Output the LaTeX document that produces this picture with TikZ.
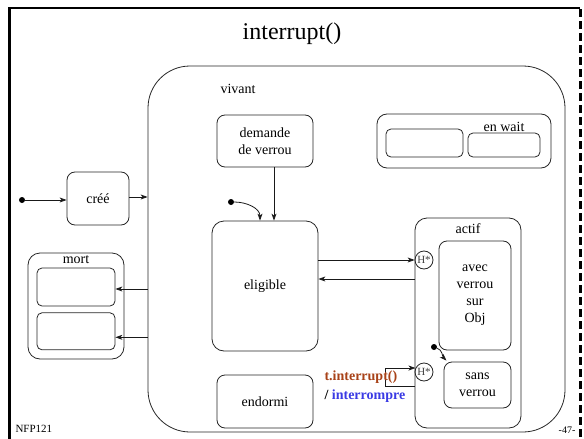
\documentclass[tikz,border=0pt]{standalone}
\usepackage{fontspec}
\setmainfont{Liberation Serif}
\usepackage{xcolor}
\usepackage{tikz}
\usetikzlibrary{calc}
\usetikzlibrary{positioning}
\usetikzlibrary{arrows.meta}

\definecolor{trigcol}{RGB}{168,66,24}
\definecolor{actcol}{RGB}{58,58,228}

\begin{document}
\begin{tikzpicture}[x=1pt,y=-1pt,
      font=\fontsize{14}{17}\selectfont,
      state style/.style={rectangle,draw=black!85,line width=0.8pt,
        rounded corners=8pt,align=center,inner sep=0pt},
      hist style/.style={circle,draw=black!85,line width=0.8pt,inner sep=0pt,
        minimum size=18pt,font=\fontsize{11}{11}\selectfont,text=black!75},
      init style/.style={circle,fill=black,inner sep=0pt,minimum size=6pt},
      arr/.style={-{Stealth[length=7pt,width=5pt,inset=2pt]},draw=black!90,line width=0.8pt}
      ]
      \useasboundingbox (0,0) rectangle (584,439);

      % frame
      \draw[line width=3pt] (9,439) -- (9,8);
      \draw[line width=2pt] (8,8) -- (580,8);
      \draw[line width=3pt,dash pattern=on 8pt off 4pt] (580.5,9) -- (580.5,439);
      \node (title) at (292,34) {\fontsize{24}{24}\selectfont interrupt()};

      \node[state style, rounded corners=42pt, minimum width=417pt, minimum height=366pt] (vivant) at (356.5,249) {};
      \node[anchor=west] (vivlab) at (217,89) {vivant};

      \node[state style, minimum width=96pt, minimum height=52pt] (dv) at (265,141) {demande\\de verrou};
      \node[state style, rounded corners=12pt, minimum width=106pt, minimum height=130pt] (elig) at (265,286) {eligible};
      \node[state style, minimum width=96pt, minimum height=53pt] (endormi) at (265,401.5) {endormi};

      \node[state style, rounded corners=10pt, minimum width=174pt, minimum height=54pt] (enwait) at (464,141) {};
      \node[state style, rounded corners=5pt, minimum width=77pt, minimum height=28pt] (w1) at (424.5,143) {};
      \node[state style, rounded corners=5pt, minimum width=72pt, minimum height=24pt] (w2) at (504,145) {};
      \node[above=0pt of w2, yshift=-3pt] (wlab) {en wait};

      \node[state style, rounded corners=12pt, minimum width=106pt, minimum height=210pt] (actif) at (468,323) {};
      \node (alab) at (468,229) {actif};
      \node[state style, minimum width=72pt, minimum height=109pt] (avec) at (475,295.5) {avec\\verrou\\sur\\Obj};
      \node[state style, minimum width=67pt, minimum height=46pt] (sans) at (477.5,385) {sans\\verrou};
      \node[hist style] (h1) at (424,260) {H*};
      \node[hist style] (h2) at (424,372) {H*};
      \node[init style] (init3) at (434,347) {};

      \node[state style, minimum width=62pt, minimum height=53pt] (cree) at (98,198.5) {créé};
      \node[init style] (init1) at (22,200) {};

      \node[state style, rounded corners=12pt, minimum width=96pt, minimum height=106pt] (mort) at (76,306) {};
      \node (mlab) at (76,260) {mort};
      \node[state style, rounded corners=5pt, minimum width=78pt, minimum height=38pt] (m1) at (76,287) {};
      \node[state style, rounded corners=5pt, minimum width=78pt, minimum height=37pt, below=6pt of m1] (m2) {};

      \node[init style] (init2) at (231,202) {};

      \draw[arr] (init1) -- (init1 -| cree.west);
      \draw[arr] ([yshift=1.5pt]cree.east) -- ([yshift=1.5pt]cree.east -| vivant.west);
      \draw[arr] ([yshift=-2pt]m1.east -| vivant.west) -- ([yshift=-2pt]m1.east);
      \draw[arr] ([yshift=-6pt]m2.east -| vivant.west) -- ([yshift=-6pt]m2.east);

      \draw[arr] ([xshift=9pt]dv.south) -- ([xshift=9pt]dv.south |- elig.north);
      \draw[arr] (init2) to[out=0,in=90] ([xshift=-5pt]elig.north);

      \draw[arr] (elig.east |- h1.west) -- (h1.west);
      \draw[arr] ([yshift=-19pt]h1.west) -- ([yshift=-19pt]h1.west -| elig.east);

      \draw[arr] (h2.west) ++(0,14) -- ++(-29,0) |- (h2.155);
      \draw[arr] (init3) to[out=-20,in=135] ([xshift=-31pt,yshift=1pt]sans.north);

      \node[anchor=west, font=\fontsize{14}{17}\selectfont\bfseries, text=trigcol] (trig) at (321,377) {t.interrupt()};
      \node[anchor=west, font=\fontsize{14}{17}\selectfont\bfseries] (act) at (321,396) {/ \textcolor{actcol}{interrompre}};

      \node[anchor=west, font=\fontsize{11}{11}\selectfont] (nfp) at (12,429) {NFP121};
      \node[font=\fontsize{10}{10}\selectfont] (page) at (567,430) {-47-};

    \end{tikzpicture}
\end{document}
